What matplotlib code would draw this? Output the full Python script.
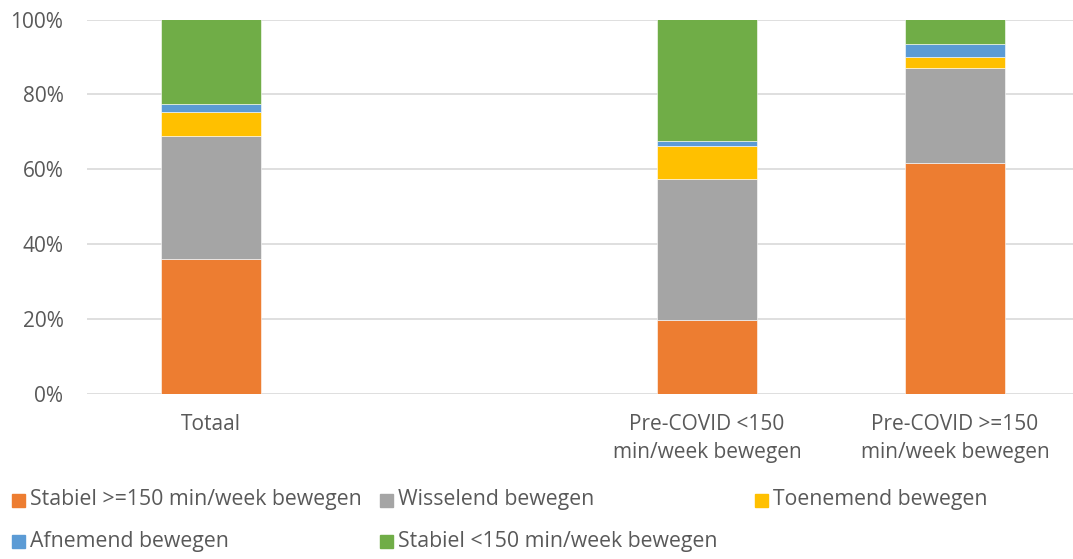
import matplotlib
matplotlib.use("Agg")
import matplotlib.pyplot as plt
from matplotlib.patches import Rectangle
import numpy as np

plt.rcParams['font.family'] = ['Open Sans', 'DejaVu Sans']

categories = ["Totaal", "", "Pre-COVID <150\nmin/week bewegen", "Pre-COVID >=150\nmin/week bewegen"]
series_names = [
    "Stabiel >=150 min/week bewegen",
    "Wisselend bewegen",
    "Toenemend bewegen",
    "Afnemend bewegen",
    "Stabiel <150 min/week bewegen",
]
colors = ["#ED7D31", "#A5A5A5", "#FFC000", "#5B9BD5", "#70AD47"]

stabiel_hoog = [35.9, 0.0, 19.6, 61.6]
wisselend = [33.0, 0.0, 37.8, 25.5]
toenemend = [6.4, 0.0, 8.9, 2.9]
afnemend = [2.0, 0.0, 1.1, 3.4]
stabiel_laag = [22.7, 0.0, 32.6, 6.6]
has_bar = [True, False, True, True]

series = [stabiel_hoog, wisselend, toenemend, afnemend, stabiel_laag]

W, H = 1073, 559
fig = plt.figure(figsize=(W / 100, H / 100), dpi=100)
ax = fig.add_axes([87 / W, 1 - 393.5 / H, (1073 - 87) / W, (393.5 - 19.5) / H])

text_color = "#595959"
x = np.arange(len(categories))
idx = [i for i in range(len(categories)) if has_bar[i]]
bottom = np.zeros(len(idx))
for vals, col in zip(series, colors):
    v = np.array([vals[i] for i in idx])
    ax.bar(x[idx], v, width=0.40, bottom=bottom, color=col,
           edgecolor="white", linewidth=0.4, zorder=3)
    bottom += v

ax.set_xlim(-0.5, 3.476)
ax.set_ylim(0, 100)
ax.set_yticks(np.arange(0, 101, 20))
ax.set_yticklabels([f"{t}%" for t in range(0, 101, 20)])
ax.yaxis.grid(True, color="#D9D9D9", linewidth=1.2, zorder=0)
ax.set_axisbelow(True)
for s in ax.spines.values():
    s.set_visible(False)
ax.tick_params(axis="y", length=0, pad=17, labelsize=15, labelcolor=text_color)
ax.tick_params(axis="x", length=0, pad=0)
ax.set_xticks([])

# category labels beneath the axis
for i, lab in enumerate(categories):
    if lab:
        ax.annotate(lab, xy=(x[i], 0), xycoords=("data", "axes fraction"),
                    xytext=(0, -20), textcoords="offset pixels",
                    ha="center", va="top", fontsize=15, color=text_color,
                    linespacing=1.45)

# legend laid out in three columns
legend_pos = [(12, 500), (380, 500), (755, 500), (12, 541), (380, 541)]
for (px, py), name, col in zip(legend_pos, series_names, colors):
    fig.patches.append(Rectangle((px / W, 1 - (py + 6.5) / H), 13 / W, 13 / H,
                                 transform=fig.transFigure, color=col))
    fig.text((px + 18) / W, 1 - py / H, name, ha="left", va="center",
             fontsize=15.3, color=text_color)

fig.savefig("out.png", dpi=100)
